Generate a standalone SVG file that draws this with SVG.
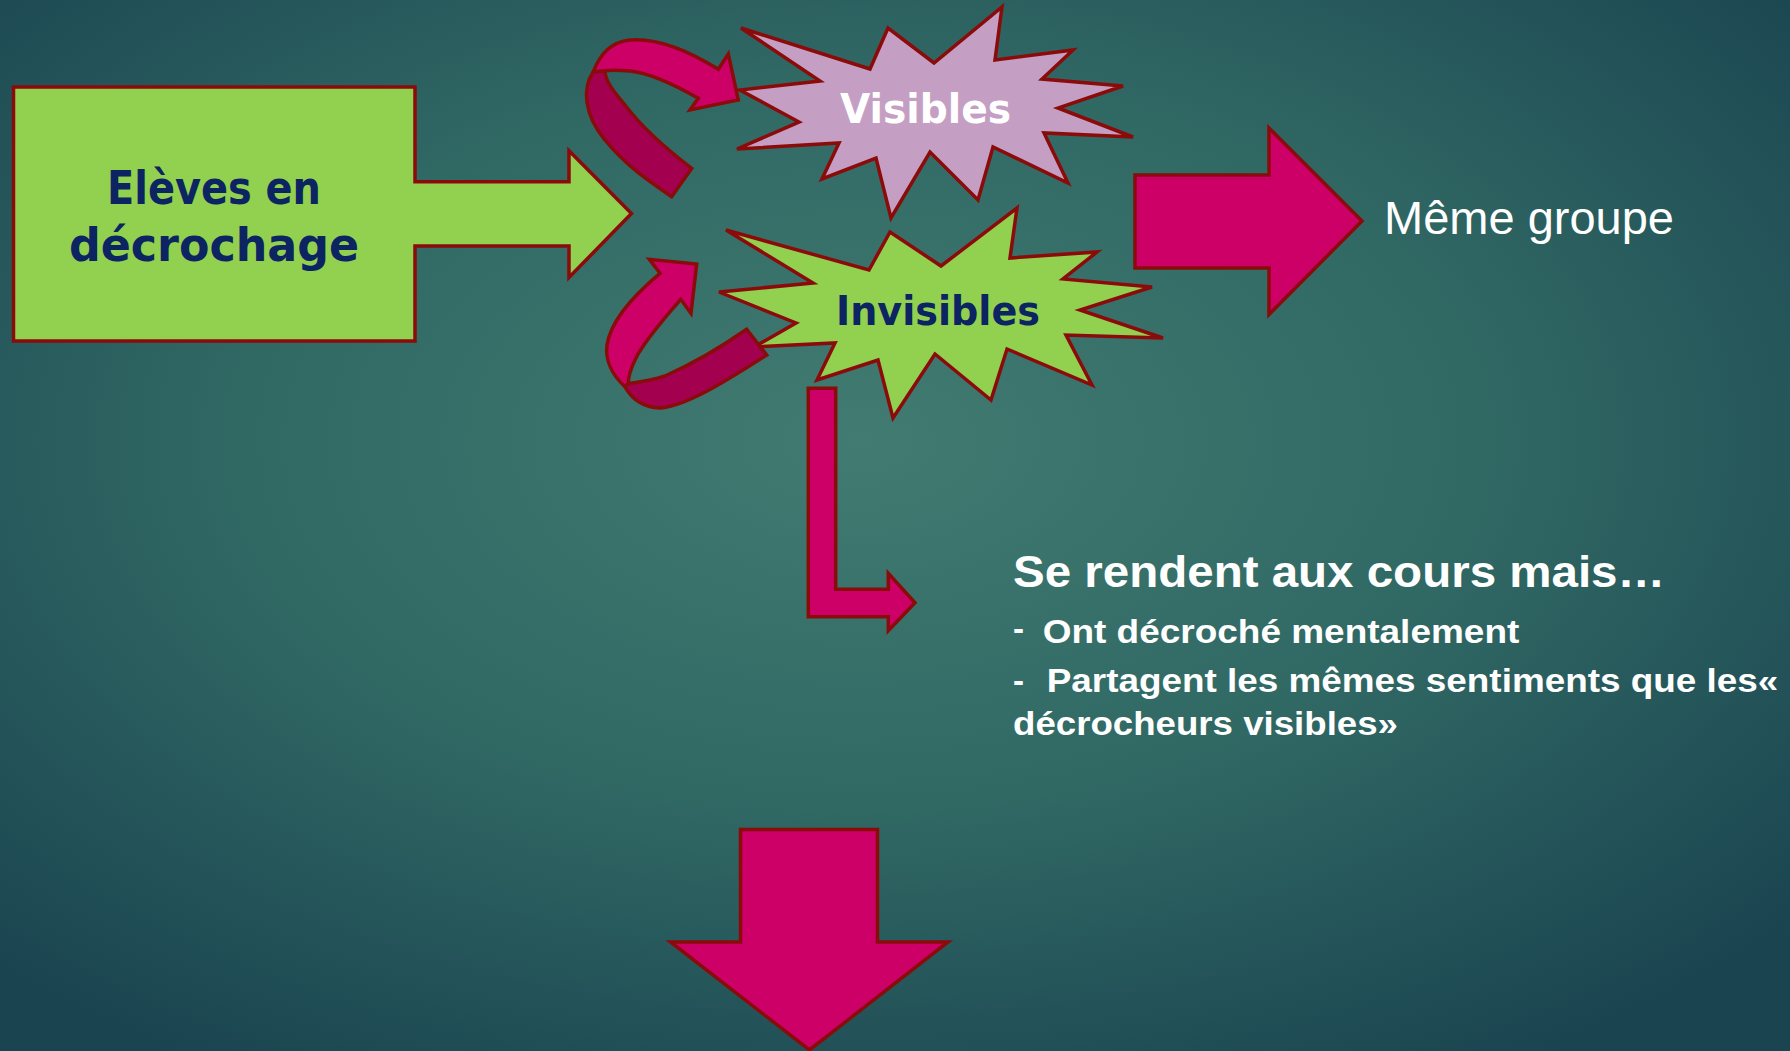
<svg xmlns="http://www.w3.org/2000/svg" width="1790" height="1051" viewBox="0 0 1790 1051">
<defs>
<radialGradient id="bg" cx="0.48" cy="0.42" r="0.7">
<stop offset="0" stop-color="#417b71"/>
<stop offset="0.5" stop-color="#306864"/>
<stop offset="1" stop-color="#1a4450"/>
</radialGradient>
<style>
.st{stroke:#8b0b0b;stroke-width:3.5;stroke-linejoin:miter}
.mag{fill:#cc0066}
.dark{fill:#a3004f}
.grn{fill:#92d050}
.lil{fill:#c49ec3}
.lbl{font-family:"DejaVu Sans",sans-serif;font-weight:bold;text-anchor:start}
.txt{font-family:"Liberation Sans",Arial,sans-serif;fill:#ffffff}
</style>
</defs>
<rect width="1790" height="1051" fill="url(#bg)"/>

<g id="node-eleves">
<path class="st grn" d="M13.5,87 L415,87 L415,181.7 L569,181.7 L569,150.7 L631.5,213.5 L569,277.5 L569,246 L415,246 L415,341 L13.5,341 Z"/>
<text class="lbl" x="107" y="204" font-size="46" fill="#0c2461" textLength="214" lengthAdjust="spacingAndGlyphs">Elèves en</text>
<text class="lbl" x="69" y="260.5" font-size="46" fill="#0c2461" textLength="290" lengthAdjust="spacingAndGlyphs">décrochage</text>
</g>

<g id="node-visibles">
<path class="st lil" d="M741,28 L870,69 L888,28 L934,63 L1002,7 L995,60 L1073,50 L1042,79 L1123,86 L1058,108 L1133,137 L1044,133 L1068,183 L993,147 L978,200 L930,152 L891,218 L876,158 L822,179 L839,143 L737,149 L799,122 L740,90 L820,81 Z"/>
<text class="lbl" x="840" y="123" font-size="40" fill="#ffffff" textLength="171" lengthAdjust="spacingAndGlyphs">Visibles</text>
</g>

<g id="node-invisibles">
<path class="st grn" d="M726,230 L869,270 L890,232 L941,266 L1017,208 L1010,258 L1097,252 L1063,279 L1152,287 L1080,310 L1163,338 L1066,335 L1092,385 L1007,349 L991,400 L935,354 L893,418 L878,360 L817,380 L835,343 L754,347 L796,323 L719,292 L813,283 Z"/>
<text class="lbl" x="836" y="325" font-size="40" fill="#0c2461" textLength="204" lengthAdjust="spacingAndGlyphs">Invisibles</text>
</g>

<g id="node-meme-groupe">
<text class="txt" x="1384" y="234" font-size="47">Même groupe</text>
</g>

<g id="node-description">
<text class="txt" font-weight="bold" x="1013" y="586.7" font-size="45" textLength="652" lengthAdjust="spacingAndGlyphs">Se rendent aux cours mais…</text>
<text class="txt" font-weight="bold" x="1013" y="640" font-size="33">-</text>
<text class="txt" font-weight="bold" x="1042.7" y="643.3" font-size="33" textLength="476.6" lengthAdjust="spacingAndGlyphs">Ont décroché mentalement</text>
<text class="txt" font-weight="bold" x="1013" y="691.7" font-size="33">-</text>
<text class="txt" font-weight="bold" x="1046.7" y="691.7" font-size="33" textLength="731.6" lengthAdjust="spacingAndGlyphs">Partagent les mêmes sentiments que les«</text>
<text class="txt" font-weight="bold" x="1013" y="735" font-size="33" textLength="385" lengthAdjust="spacingAndGlyphs">décrocheurs visibles»</text>
</g>

<g id="connectors">
<g id="curved-arrow-top">
<path class="st dark" d="M593.3,71.7 C582,88 584,115 605,140 C625,165 650,182 671.7,196.7 L691.7,168.3 C665,148 640,125 625,105 C612,90 605,80 605,70.7 Z"/>
<path class="st mag" d="M593.3,71.7 C600,55 610,42 630,40 C660,38 690,52 718.3,69.3 L728.3,54 L738.3,100 L690,110 L698.3,98.3 C675,85 650,73 630,71 C618,70 610,70 605,70.7 Z"/>
</g>
<g id="curved-arrow-bottom">
<path class="st mag" d="M660,273.3 L649.3,259.3 L696.7,264 L691,313.3 L680.7,299.3 C665,318 645,340 636,358 C630,370 628,378 628.5,383.5 L625,386.7 C612,375 605,360 607,345 C610,325 628,300 660,273.3 Z"/>
<path class="st dark" d="M625,386.7 C632,400 645,408 660,408 C685,406 720,385 766.7,355 L746.7,329.3 C720,348 690,365 665,376 C650,381 638,382 628.5,383.5 Z"/>
</g>
<path id="arrow-right" class="st mag" d="M1135,175 L1269,175 L1269,128 L1362,221 L1269,314.5 L1269,268 L1135,268 Z"/>
<path id="arrow-bent" class="st mag" d="M808.3,388.3 L835.7,388.3 L835.7,589.3 L888.3,589.3 L888.3,573.3 L915,602.7 L888.3,630.7 L888.3,616.7 L808.3,616.7 Z"/>
<path id="arrow-down" class="st mag" d="M740.5,829.5 L877.5,829.5 L877.5,942 L948,942 L809.5,1050 L670.5,942 L740.5,942 Z"/>
</g>
</svg>
